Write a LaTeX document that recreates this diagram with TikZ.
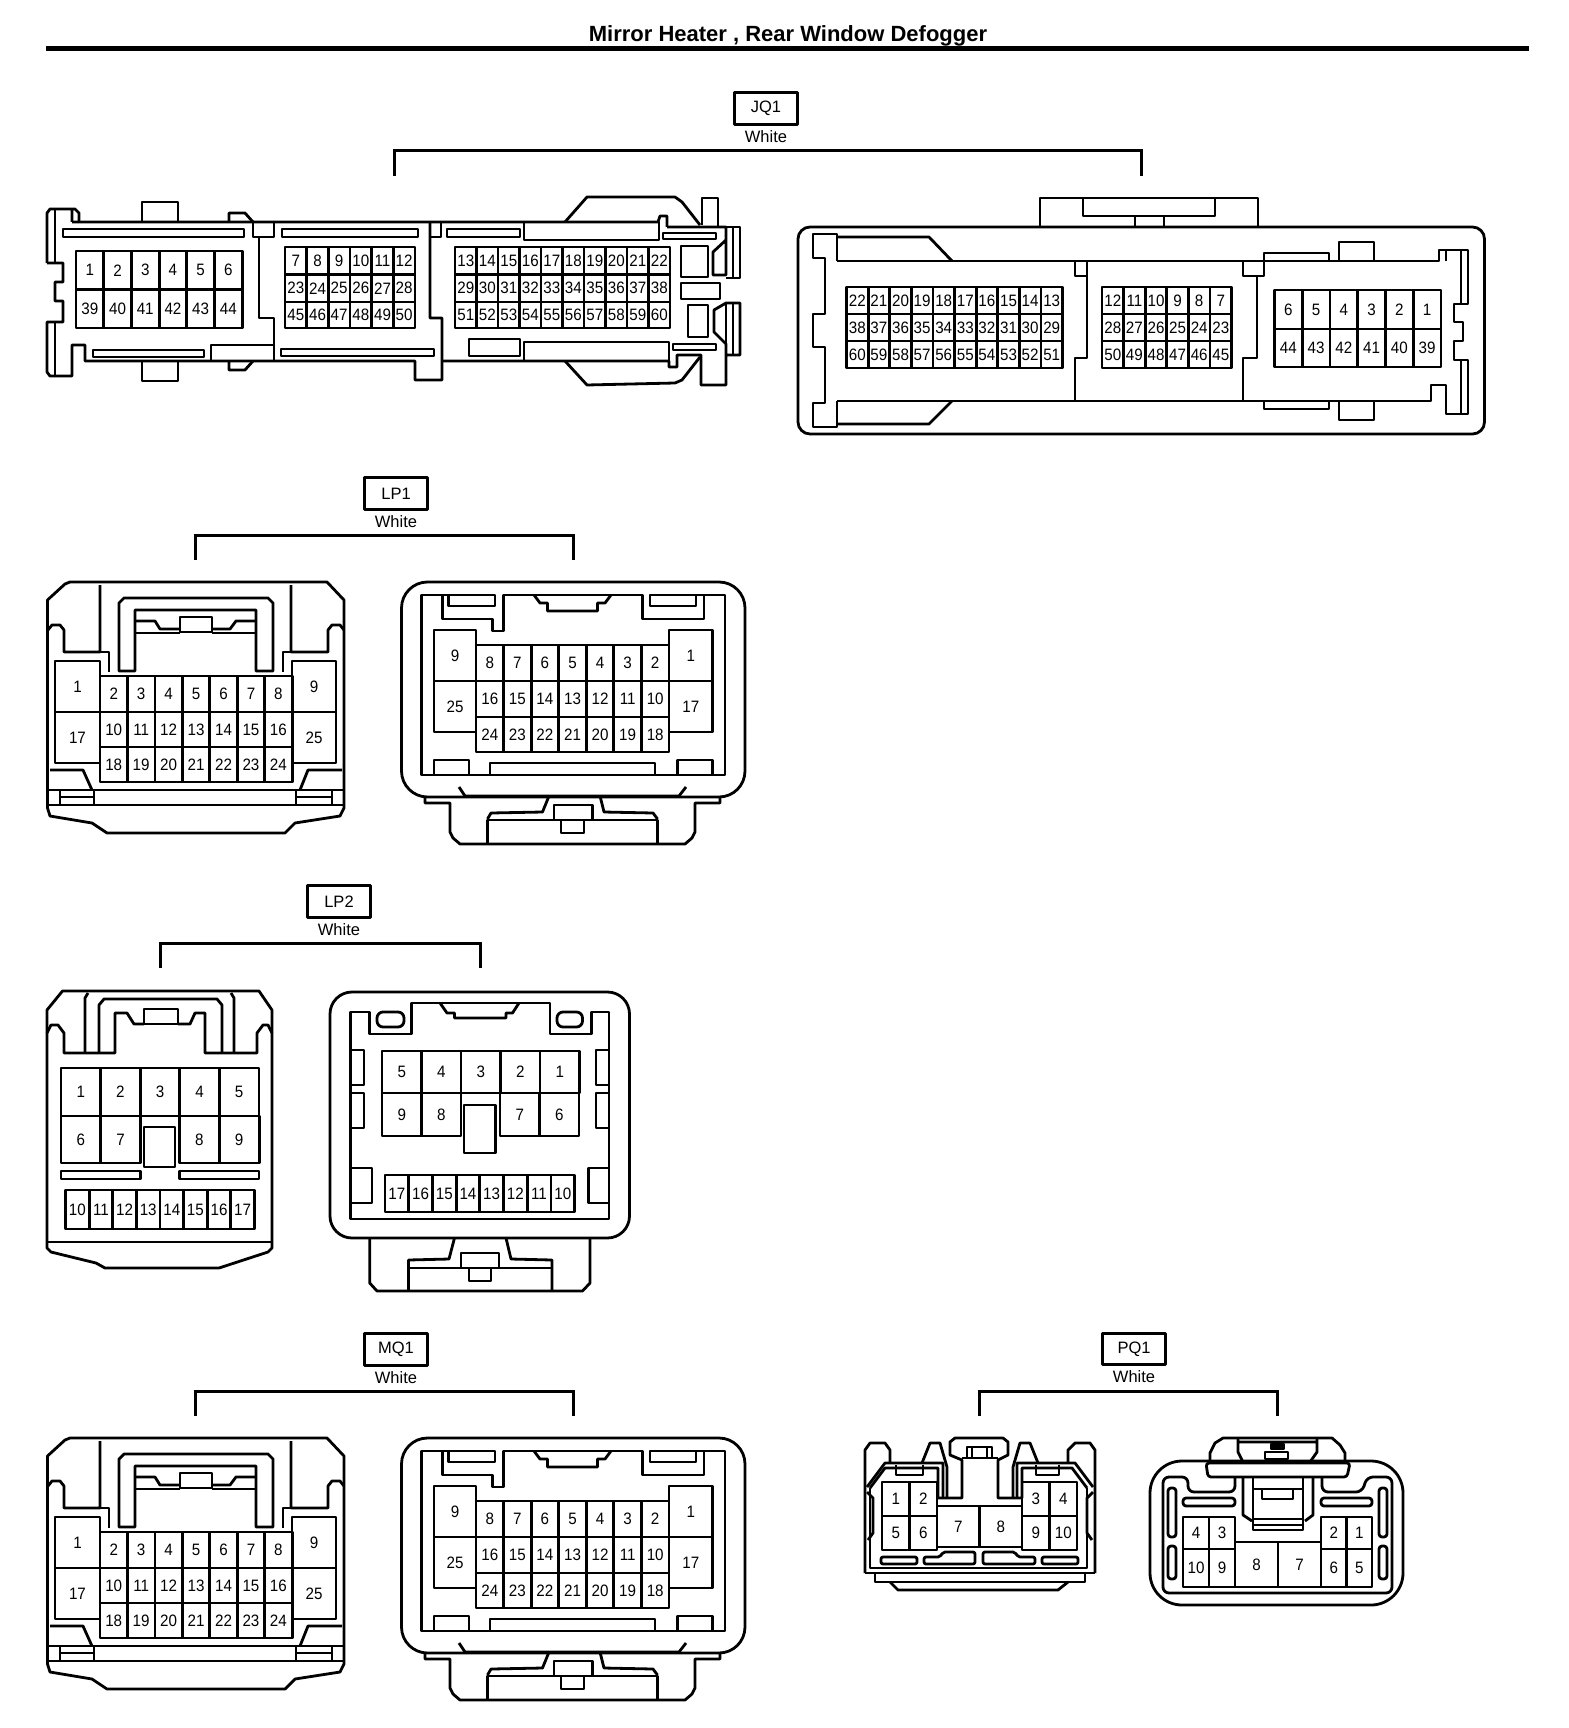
\documentclass[tikz,border=0pt]{standalone}
\usepackage{fontspec}
\setmainfont{Liberation Sans}
\newfontfamily\pinfont[FakeStretch=0.92]{Liberation Sans}
\tikzset{
  pinno/.style={inner sep=0pt,font=\pinfont\fontsize{16.5}{16.5}\selectfont},
  headtxt/.style={inner sep=0pt,font=\bfseries\fontsize{22}{22}\selectfont},
  tagbox/.style={draw,line width=2.8pt,minimum width=63pt,minimum height=31.5pt,inner sep=0pt,font=\fontsize{16.5}{16.5}\selectfont},
  tagcol/.style={inner sep=0pt,font=\fontsize{16.5}{16.5}\selectfont},
  brk/.style={line width=3pt,line cap=butt,line join=miter},
  thinl/.style={line width=2.2pt},
}
% one row of equal cells: name, top, bottom, left, width, labels
\newcommand{\cellrow}[6]{
  \foreach \lab [count=\i from 0] in {#6} {
    \pgfmathsetmacro\xa{#4+\i*#5}
    \pgfmathsetmacro\xb{#4+(\i+1)*#5}
    \draw (\xa,#2) rectangle (\xb,#3);
    \node[pinno] (#1-\lab) at ({(\xa+\xb)/2},{(#2+#3)/2}) {\lab};
  }
}
% tag above a connector pair: name, x, y, bracket left, bracket right, bracket top
\newcommand{\conntag}[6]{
  \node[tagbox] (#1) at (#2,#3) {#1};
  \node[tagcol] (#1col) at (#2,#3+28) {White};
  \coordinate (#1a) at (#4,#6+25);
  \coordinate (#1b) at (#4,#6);
  \coordinate (#1c) at (#5,#6);
  \coordinate (#1d) at (#5,#6+25);
  \draw[brk] (#1a) -- (#1b) -- (#1c) -- (#1d);
}
% the 25 pin pair, used twice
\newcommand{\lppair}[2]{
\begin{scope}[shift={(0,#2)}]
  \draw (47.5,600) -- (65,584) -- (70,582) -- (327,582) -- (344,600) -- (344,808) -- (340,816) -- (295,823) -- (285,833) -- (107,833) -- (92,823) -- (50,816) -- (47.5,808) -- cycle;
  \draw (100,585) -- (100,652) -- (64,652) -- (64,630) -- (60,625) -- (52,625) -- (48,630);
  \draw (291,585) -- (291,652) -- (328,652) -- (328,630) -- (332,625) -- (340,625) -- (344,630);
  \draw (100,652) -- (109,652) -- (109,672) (291,652) -- (283,652) -- (283,672);
  \draw (119,671) -- (119,603) -- (124,598) -- (268,598) -- (273,603) -- (273,671) -- (256,671) -- (256,610) -- (135,610) -- (135,671) -- cycle;
  \draw (135,621) -- (155,621) -- (160,629) -- (180,629);
  \draw (256,621) -- (236,621) -- (230,629) -- (212,629);
  \draw (180,632) rectangle (212,617);
  \draw (135,633) -- (180,633) (212,633) -- (256,633);
  \draw (50,770) -- (83,770) -- (92,790) (342,770) -- (308,770) -- (300,790);
  \draw (47.5,790) -- (344,790) (47.5,805) -- (344,805);
  \draw[thinl] (60,790) -- (60,805) (94,790) -- (94,805) (60,797) -- (94,797) (296,790) -- (296,805) (332,790) -- (332,805) (296,797) -- (332,797);
  \cellrow{#1a}{661}{712}{55}{45}{1}
  \cellrow{#1b}{712}{763}{55}{45}{17}
  \cellrow{#1c}{661}{712}{292}{44}{9}
  \cellrow{#1d}{712}{763}{292}{44}{25}
  \cellrow{#1e}{676}{712}{100}{27.45}{2,3,4,5,6,7,8}
  \cellrow{#1e}{712}{747}{100}{27.45}{10,11,12,13,14,15,16}
  \cellrow{#1e}{747}{782}{100}{27.45}{18,19,20,21,22,23,24}
  % other half
  \draw[rounded corners=26pt] (401.5,582) rectangle (745,797);
  \draw (425,797) -- (425,803) -- (450,803) -- (450,832) -- (453,838) -- (460,844) -- (685,844) -- (692,838) -- (695,832) -- (695,803) -- (720,803) -- (720,797);
  \draw (421.5,775) -- (421.5,595) -- (442.5,595) -- (442.5,619) -- (492.5,619) -- (492.5,631) -- (503.5,631) -- (503.5,595) -- (642.5,595) -- (642.5,619) -- (704,619) -- (704,595) -- (725,595) -- (725,775) -- cycle;
  \draw (534,595) -- (540,603) -- (547.5,603) -- (547.5,611) -- (597.5,611) -- (597.5,603) -- (605,603) -- (611,595);
  \draw (448.5,595) rectangle (495,606) (650,595) rectangle (696,606);
  \draw (442.5,595) -- (448.5,595) (696,595) -- (704,595);
  \draw (434,775) -- (434,760) -- (469,760) -- (469,775) (677.5,775) -- (677.5,760) -- (712.5,760) -- (712.5,775) (490,775) -- (490,763) -- (655,763) -- (655,775);
  \cellrow{#1f}{630}{681}{434}{42}{9}
  \cellrow{#1g}{681}{732}{434}{42}{25}
  \cellrow{#1h}{630}{681}{669}{43.5}{1}
  \cellrow{#1i}{681}{732}{669}{43.5}{17}
  \cellrow{#1j}{645}{681}{476}{27.57}{8,7,6,5,4,3,2}
  \cellrow{#1j}{681}{717}{476}{27.57}{16,15,14,13,12,11,10}
  \cellrow{#1j}{717}{752}{476}{27.57}{24,23,22,21,20,19,18}
  \draw (459,787) -- (465,796) -- (679,796) -- (686,787);
  \draw (549,796) -- (542.5,812) -- (491,813) -- (487.5,819) (600,796) -- (604,812) -- (653,813) -- (657.5,819);
  \draw (487.5,844) -- (487.5,820) -- (657.5,820) -- (657.5,844);
  \draw (554,820) -- (554,805) -- (592.5,805) -- (592.5,820) (561,820) -- (561,833) -- (584,833) -- (584,820);
\end{scope}
}
\begin{document}
\begin{tikzpicture}[x=1pt,y=-1pt,line width=2.8pt,line join=round]
\useasboundingbox (0,0) rectangle (1568,1728);
\node[headtxt] (title) at (788,35.5) {Mirror Heater , Rear Window Defogger};
\coordinate (rulea) at (46,48.5);
\coordinate (ruleb) at (1529,48.5);
\draw[line width=5pt] (rulea) -- (ruleb);

\conntag{JQ1}{766}{108.5}{394}{1141.5}{151}
\conntag{LP1}{396}{493.5}{195}{573}{535}
\conntag{LP2}{339}{901.5}{160}{480}{943}
\conntag{MQ1}{396}{1349.5}{195}{573}{1391}
\conntag{PQ1}{1134}{1349}{979}{1277}{1391}

% JQ1 long half
\draw (72,222) -- (72,209) (47,263) -- (47,213) -- (50,209) -- (75,209) -- (79,213) -- (79,222);
\draw (47,263) -- (63,263) -- (63,282) -- (55,282) -- (55,301) -- (63,301) -- (63,322) -- (47,322) -- (47,372) -- (50,376) -- (72,376) -- (72,345) -- (85,345) -- (85,361) -- (415,361) -- (415,380) -- (442,380) -- (442,318) -- (430,318) -- (430,222);
\draw (55,263) -- (55,209) (55,322) -- (55,376);
\draw (72,222) -- (658,222) -- (660,216) -- (667,216) -- (667,227);
\draw (442,361) -- (669,361) -- (669,367) -- (677,367) -- (677,355) -- (701,355) -- (701,385) -- (726,385) -- (726,344) -- (714,332) -- (714,310) -- (726,303) -- (740,303) -- (740,355) -- (726,355);
\draw (726,303) -- (726,355) (733,303) -- (733,355);
\draw (565,222) -- (587,197) -- (675,197) -- (682,202) -- (700,225);
\draw (565,361) -- (587,385) -- (675,383) -- (682,380) -- (700,357);
\draw (702,225) -- (702,198) -- (718,198) -- (718,227) -- (740,227) -- (740,278) -- (726,278);
\draw (667,227) -- (726,227) -- (726,240) -- (713,252) -- (713,275) -- (726,275) -- (726,227);
\draw (733,227) -- (733,278);
\draw (259,237) -- (259,318) -- (274,318) -- (274,361);
\draw (253,222) -- (253,237) -- (274,237) -- (274,222) (430,237) -- (441,237) -- (441,222);
\draw (229,222) -- (229,213) -- (245,213) -- (253,222) (229,361) -- (229,370) -- (245,370) -- (253,361);
\draw (142,222) -- (142,202) -- (178,202) -- (178,222) (142,361) -- (142,381) -- (178,381) -- (178,361);
\draw (63,229) rectangle (244,237) (282,229) rectangle (418,237) (447,229) rectangle (520,237);
\draw (524,222) rectangle (659,240) (663,233) rectangle (716,239);
\draw (681,246) rectangle (708,277) (681,283) rectangle (720,299) (688,305) rectangle (708,337);
\draw (469,339) rectangle (520,356) (524,342) rectangle (669,361) (673,344) rectangle (716,350);
\draw (93,350) rectangle (204,357) (211,345) rectangle (274,361) (281,349) rectangle (434,356);
\cellrow{jla}{251}{289.5}{76}{27.7}{1,2,3,4,5,6}
\cellrow{jla}{289.5}{328}{76}{27.7}{39,40,41,42,43,44}
\cellrow{jlb}{247}{274.5}{285}{21.67}{7,8,9,10,11,12}
\cellrow{jlb}{274.5}{302}{285}{21.67}{23,24,25,26,27,28}
\cellrow{jlb}{302}{328}{285}{21.67}{45,46,47,48,49,50}
\cellrow{jlc}{247}{274.5}{455}{21.5}{13,14,15,16,17,18,19,20,21,22}
\cellrow{jlc}{274.5}{302}{455}{21.5}{29,30,31,32,33,34,35,36,37,38}
\cellrow{jlc}{302}{328}{455}{21.5}{51,52,53,54,55,56,57,58,59,60}

% JQ1 short half
\draw[rounded corners=12pt] (798,227) rectangle (1484.5,434);
\draw (1040,227) -- (1040,198) -- (1258,198) -- (1258,227);
\draw (1083,198) -- (1083,216) -- (1215,216) -- (1215,198) (1135,216) -- (1135,227) (1164,216) -- (1164,227);
\draw (837,261) -- (837,234) -- (813,234) -- (813,258) -- (825,258) -- (825,314) -- (813,314) -- (813,347) -- (825,347) -- (825,403) -- (813,403) -- (813,427) -- (837,427) -- (837,401);
\draw (837,261) -- (1439,261) -- (1439,250) -- (1468,250) -- (1468,304) -- (1454,304) -- (1454,322) -- (1463,322) -- (1463,341) -- (1454,341) -- (1454,360) -- (1468,360) -- (1468,414) -- (1446,414) -- (1446,385) -- (1431,385) -- (1431,401) -- (837,401);
\draw (837,237) -- (929,237) -- (952,261) (837,424) -- (929,424) -- (952,401);
\draw (1075,261) -- (1075,276) -- (1087,276) -- (1087,358) -- (1075,358) -- (1075,401) (1087,261) -- (1087,276);
\draw (1243,261) -- (1243,276) -- (1264,276) -- (1264,261) (1257,276) -- (1257,358) -- (1243,358) -- (1243,401);
\draw (1264,261) -- (1264,253) -- (1329,253) -- (1329,261) (1339,261) -- (1339,242) -- (1374,242) -- (1374,261);
\draw (1264,401) -- (1264,409) -- (1329,409) -- (1329,401) (1339,401) -- (1339,420) -- (1374,420) -- (1374,401);
\draw (1461,250) -- (1461,304) (1461,360) -- (1461,414) (1446,250) -- (1446,261);
\cellrow{jra}{287}{314}{846.5}{21.6}{22,21,20,19,18,17,16,15,14,13}
\cellrow{jra}{314}{341}{846.5}{21.6}{38,37,36,35,34,33,32,31,30,29}
\cellrow{jra}{341}{368}{846.5}{21.6}{60,59,58,57,56,55,54,53,52,51}
\cellrow{jrb}{287}{314}{1102}{21.6}{12,11,10,9,8,7}
\cellrow{jrb}{314}{341}{1102}{21.6}{28,27,26,25,24,23}
\cellrow{jrb}{341}{368}{1102}{21.6}{50,49,48,47,46,45}
\cellrow{jrc}{290}{329}{1274.5}{27.75}{6,5,4,3,2,1}
\cellrow{jrc}{329}{367}{1274.5}{27.75}{44,43,42,41,40,39}

\lppair{lpa}{0}
\lppair{mqa}{856}

% LP2 first half
\draw (47,1010) -- (62.5,991) -- (259,991) -- (272,1010) -- (272,1248) -- (268,1252) -- (219,1268) -- (105,1268) -- (96,1263) -- (51,1252) -- (47,1248) -- cycle;
\draw (47,1242) -- (272,1242);
\draw (85,1053) -- (85,998) -- (88,993) (234,1053) -- (234,998) -- (231,993);
\draw (99,1053) -- (99,1005) -- (104,999) -- (217,999) -- (222,1005) -- (222,1053);
\draw (47,1033) -- (51,1025) -- (58,1025) -- (64,1033) -- (64,1053) -- (115,1053) -- (115,1013) -- (127,1013) -- (134,1024) -- (144,1024);
\draw (272,1033) -- (268,1025) -- (263,1025) -- (257,1033) -- (257,1053) -- (205,1053) -- (205,1013) -- (195,1013) -- (190,1024) -- (178,1024);
\draw (144,1024) rectangle (178,1009);
\cellrow{ltop}{1068}{1116}{61}{39.6}{1,2,3,4,5}
\cellrow{ltop}{1116}{1163}{61}{39.8}{6,7}
\cellrow{ltop}{1116}{1163}{179.5}{39.8}{8,9}
\draw (144,1127) rectangle (175,1167);
\draw (61,1171) rectangle (140.6,1179) (179.5,1171) rectangle (259,1179);
\cellrow{lbot}{1190}{1229}{65.6}{23.6}{10,11,12,13,14,15,16,17}

% LP2 other half
\draw[rounded corners=22pt] (330,992) rectangle (629.5,1238);
\draw (350.5,1012) -- (350.5,1219) -- (609,1219) -- (609,1012) -- (591.5,1012) -- (591.5,1034) -- (550,1034) -- (550,1003) -- (411.5,1003) -- (411.5,1034) -- (369.5,1034) -- (369.5,1012) -- cycle;
\draw (440,1003) -- (447,1013) -- (454.5,1013) -- (454.5,1018) -- (506,1018) -- (506,1013) -- (512.5,1013) -- (519,1003);
\draw[rounded corners=6pt] (377,1012) rectangle (404,1027) (557,1012) rectangle (582.5,1027);
\draw (350.5,1050) -- (364,1050) -- (364,1085) -- (350.5,1085) (350.5,1093) -- (364,1093) -- (364,1128) -- (350.5,1128);
\draw (609,1050) -- (596,1050) -- (596,1085) -- (609,1085) (609,1093) -- (596,1093) -- (596,1128) -- (609,1128);
\draw (350.5,1168) -- (372,1168) -- (372,1203) -- (350.5,1203) (609,1168) -- (588.5,1168) -- (588.5,1203) -- (609,1203);
\cellrow{rtop}{1051}{1093}{382}{39.5}{5,4,3,2,1}
\cellrow{rtop}{1093}{1136}{382}{39.5}{9,8}
\cellrow{rtop}{1093}{1136}{500}{39.5}{7,6}
\draw (464,1105) rectangle (495.5,1153);
\cellrow{rbot}{1175}{1212}{385}{23.7}{17,16,15,14,13,12,11,10}
\draw (369.7,1238) -- (369.7,1283) -- (377,1291) -- (582.5,1291) -- (590,1283) -- (590,1238);
\draw (408.5,1291) -- (408.5,1260) -- (449,1259) -- (454.5,1238) (552,1291) -- (552,1260) -- (511,1259) -- (506,1238);
\draw (408.5,1268) -- (552,1268);
\draw (461,1268) -- (461,1253) -- (499,1253) -- (499,1268) (469,1268) -- (469,1281) -- (491,1281) -- (491,1268);

% PQ1 first half
\draw (865,1573) -- (865,1450) -- (870,1443) -- (885,1443) -- (890,1450) -- (890,1463);
\draw (1095,1573) -- (1095,1450) -- (1090,1443) -- (1075,1443) -- (1068,1450) -- (1068,1463);
\draw (865,1573) -- (1095,1573) (875,1573) -- (875,1582) -- (1085,1582) -- (1085,1573);
\draw (890,1582) -- (898,1590) -- (1058,1590) -- (1068,1582);
\draw (922,1463) -- (930,1443) -- (940,1443) -- (947,1467) -- (947,1498);
\draw (1038,1463) -- (1030,1443) -- (1020,1443) -- (1013,1467) -- (1013,1498);
\draw (867,1487) -- (885,1463) -- (943,1463) -- (943,1498) (1093,1487) -- (1075,1463) -- (1017,1463) -- (1017,1498);
\draw (870,1488) -- (870,1568) -- (1087,1568) -- (1087,1488);
\draw (870,1488) -- (885,1468) -- (938,1468) -- (938,1498) -- (962,1498) -- (962,1460) -- (950,1455) -- (950,1442) -- (955,1438) -- (1003,1438) -- (1008,1442) -- (1008,1455) -- (998,1460) -- (998,1498) -- (1022,1498) -- (1022,1468) -- (1072,1468) -- (1087,1488);
\draw (962,1458) -- (998,1458) (967,1458) -- (967,1447) -- (992,1447) -- (992,1458);
\draw[thinl] (972,1447) -- (972,1458) (987,1447) -- (987,1458);
\draw (867,1492) -- (873,1498) -- (873,1533) -- (868,1540) (1093,1492) -- (1087,1498) -- (1087,1533) -- (1092,1540);
\draw (896,1465) -- (896,1475) -- (923,1475) -- (923,1465) (1036,1465) -- (1036,1475) -- (1059,1475) -- (1059,1465);
\cellrow{pal}{1482}{1516}{882}{27.5}{1,2}
\cellrow{pal}{1516}{1550}{882}{27.5}{5,6}
\cellrow{par}{1482}{1516}{1022}{27.5}{3,4}
\cellrow{par}{1516}{1550}{1022}{27.5}{9,10}
\cellrow{pam}{1506}{1547}{937}{42.5}{7,8}
\draw[rounded corners=2pt] (881,1557) rectangle (917,1564) (1042,1557) rectangle (1078,1564);
\draw[rounded corners=2pt] (924,1564) -- (924,1557) -- (940,1557) -- (943,1552) -- (975,1552) -- (975,1564) -- cycle;
\draw[rounded corners=2pt] (1035,1564) -- (1035,1557) -- (1018,1557) -- (1015,1552) -- (983,1552) -- (983,1564) -- cycle;

% PQ1 other half
\draw[rounded corners=32pt] (1150,1461) rectangle (1403,1605);
\draw (1210,1462) -- (1210,1453) -- (1215,1443) -- (1223,1438) -- (1332,1438) -- (1340,1445) -- (1345,1453) -- (1345,1462);
\draw[rounded corners=3pt] (1206,1463) -- (1208,1477) -- (1347,1477) -- (1350,1463) -- cycle;
\draw (1238,1438) -- (1238,1452) -- (1243,1462) (1317,1438) -- (1317,1452) -- (1310,1462) (1238,1442) -- (1317,1442);
\draw (1265,1452) rectangle (1288,1459);
\draw[fill=black] (1271,1444) rectangle (1284,1449);
\draw[rounded corners=6pt] (1235,1477) -- (1235,1492) -- (1188,1492) -- (1188,1477) -- (1163,1477) -- (1163,1593) -- (1392,1593) -- (1392,1477) -- (1367,1477) -- (1362,1492) -- (1322,1492) -- (1322,1477);
\draw (1243,1477) -- (1243,1515) -- (1252,1521) (1313,1477) -- (1313,1515) -- (1305,1521);
\draw (1253,1477) -- (1253,1530) -- (1303,1530) -- (1303,1477) (1253,1489) -- (1303,1489) (1253,1519) -- (1303,1519) (1253,1525) -- (1303,1525);
\draw[thinl] (1262,1490) -- (1262,1499) -- (1293,1499) -- (1293,1490);
\draw[rounded corners=3pt] (1168,1488) rectangle (1176,1537) (1168,1546) rectangle (1176,1579) (1379,1488) rectangle (1387,1537) (1379,1546) rectangle (1387,1579);
\draw[rounded corners=3pt] (1183,1498) rectangle (1235,1506) (1321,1498) rectangle (1372,1506);
\cellrow{pbl}{1517}{1549}{1183}{26}{4,3}
\cellrow{pbl}{1549}{1587}{1183}{26}{10,9}
\cellrow{pbr}{1517}{1549}{1321}{25.5}{2,1}
\cellrow{pbr}{1549}{1587}{1321}{25.5}{6,5}
\cellrow{pbm}{1542}{1587}{1235}{43}{8,7}
\end{tikzpicture}
\end{document}
